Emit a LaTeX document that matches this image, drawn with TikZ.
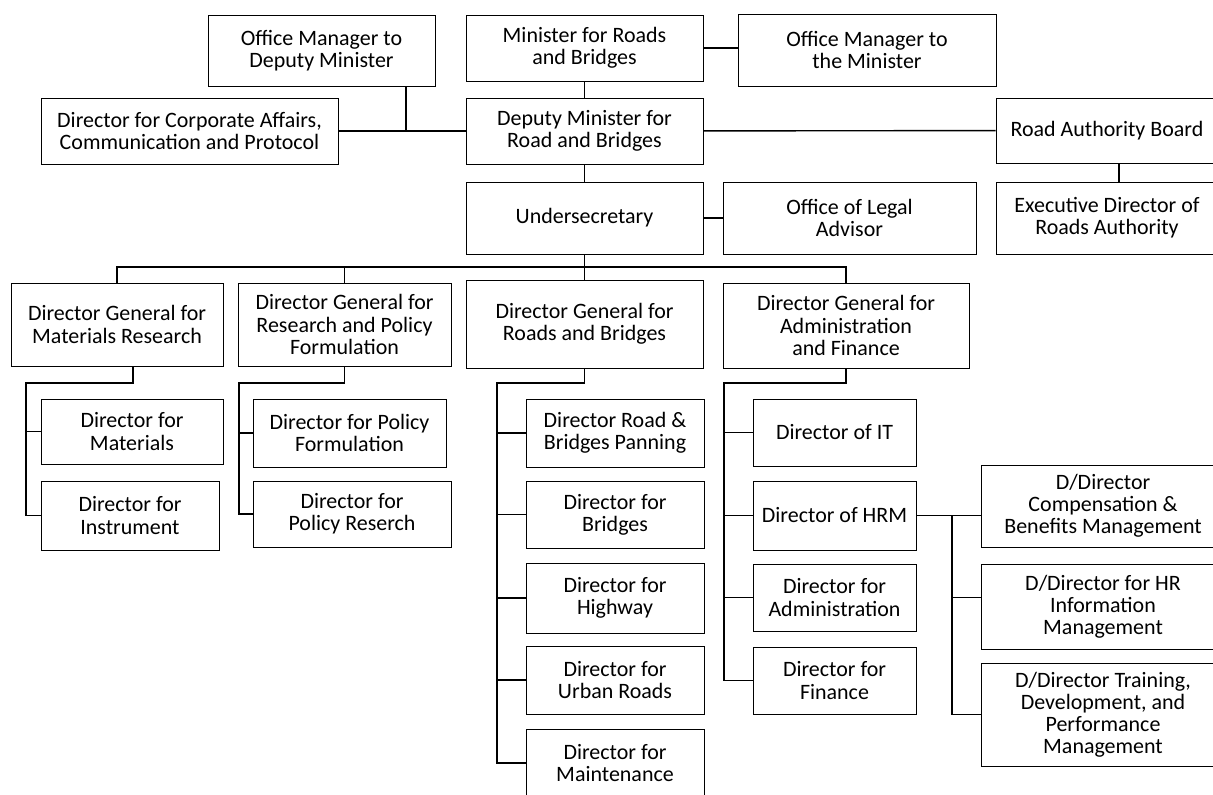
\documentclass[tikz,border=0pt]{standalone}
\usepackage{fontspec}
\setmainfont{Carlito}
\usepackage{tikz}
\usetikzlibrary{positioning}

\begin{document}
\begin{tikzpicture}
        [
        unit/.style={draw, line width=0.5pt, align=center, inner sep=0pt, font=\fontsize{12.5}{12.6}\selectfont},
        link/.style={line width=0.8pt}
        ]

        \useasboundingbox (0,0) rectangle (24.26,-15.88);

        % top level
        \node[unit, minimum width=4.54cm, minimum height=1.42cm] (omdm) at (6.43,-1.01) {Office Manager to\\Deputy Minister};
        \node[unit, minimum width=4.74cm, minimum height=1.32cm] (minister) at (11.69,-0.96) {Minister for Roads\\and Bridges};
        \node[unit, minimum width=5.16cm, minimum height=1.44cm] (omm) at (17.34,-1.00) {Office Manager to\\the Minister};

        \node[unit, minimum width=5.94cm, minimum height=1.32cm] (dca) at (3.79,-2.62) {Director for Corporate Affairs,\\Communication and Protocol};
        \node[unit, minimum width=4.74cm, minimum height=1.32cm] (deputy) at (11.69,-2.62) {Deputy Minister for\\Road and Bridges};
        \node[unit, minimum width=4.44cm, minimum height=1.30cm] (rab) at (22.14,-2.61) {Road Authority Board};

        \node[unit, minimum width=4.74cm, minimum height=1.44cm] (undersec) at (11.69,-4.36) {Undersecretary};
        \node[unit, minimum width=5.06cm, minimum height=1.44cm] (ola) at (16.99,-4.36) {Office of Legal\\Advisor};
        \node[unit, minimum width=4.44cm, minimum height=1.44cm] (edra) at (22.14,-4.36) {Executive Director of\\Roads Authority};

        % directors general
        \node[unit, minimum width=4.24cm, minimum height=1.66cm] (dgmr) at (2.34,-6.49) {Director General for\\Materials Research};
        \node[unit, minimum width=4.26cm, minimum height=1.66cm] (dgrpf) at (6.89,-6.49) {Director General for\\Research and Policy\\Formulation};
        \node[unit, minimum width=4.74cm, minimum height=1.76cm] (dgrb) at (11.69,-6.48) {Director General for\\Roads and Bridges};
        \node[unit, minimum width=4.92cm, minimum height=1.70cm] (dgaf) at (16.92,-6.51) {Director General for\\Administration\\and Finance};

        % directors
        \node[unit, minimum width=3.64cm, minimum height=1.30cm] (mat) at (2.64,-8.63) {Director for\\Materials};
        \node[unit, minimum width=3.56cm, minimum height=1.38cm] (instr) at (2.60,-10.31) {Director for\\Instrument};

        \node[unit, minimum width=3.86cm, minimum height=1.36cm] (polform) at (6.99,-8.66) {Director for Policy\\Formulation};
        \node[unit, minimum width=3.96cm, minimum height=1.32cm] (polres) at (7.04,-10.28) {Director for\\Policy Reserch};

        \node[unit, minimum width=3.56cm, minimum height=1.36cm] (rbp) at (12.30,-8.66) {Director Road \&\\Bridges Panning};
        \node[unit, minimum width=3.56cm, minimum height=1.34cm] (bridges) at (12.30,-10.29) {Director for\\Bridges};
        \node[unit, minimum width=3.56cm, minimum height=1.40cm] (highway) at (12.30,-11.96) {Director for\\Highway};
        \node[unit, minimum width=3.56cm, minimum height=1.36cm] (urban) at (12.30,-13.60) {Director for\\Urban Roads};
        \node[unit, minimum width=3.56cm, minimum height=1.36cm] (maint) at (12.30,-15.26) {Director for\\Maintenance};

        \node[unit, minimum width=3.26cm, minimum height=1.34cm] (it) at (16.69,-8.65) {Director of IT};
        \node[unit, minimum width=3.26cm, minimum height=1.38cm] (hrm) at (16.69,-10.31) {Director of HRM};
        \node[unit, minimum width=3.26cm, minimum height=1.34cm] (admin) at (16.69,-11.95) {Director for\\Administration};
        \node[unit, minimum width=3.26cm, minimum height=1.34cm] (fin) at (16.69,-13.61) {Director for\\Finance};

        % deputy directors under HRM
        \node[unit, minimum width=4.88cm, minimum height=1.64cm] (comp) at (22.06,-10.12) {D/Director\\Compensation \&\\Benefits Management};
        \node[unit, minimum width=4.88cm, minimum height=1.70cm] (hrinfo) at (22.06,-12.13) {D/Director for HR\\Information\\Management};
        \node[unit, minimum width=4.88cm, minimum height=2.06cm] (training) at (22.06,-14.29) {D/Director Training,\\Development, and\\Performance\\Management};

        % joints
        \coordinate (omj) at (8.12,-2.62);
        \coordinate (rabj) at (22.38,-2.61);
        \coordinate (bus) at (0,-5.34);
        \coordinate (mrk) at (2.66,-7.66);
        \coordinate (mrs) at (0.52,-7.66);
        \coordinate (rps) at (4.78,-7.66);
        \coordinate (rbs) at (9.94,-7.66);
        \coordinate (afs) at (14.48,-7.66);
        \coordinate (hrs) at (19.04,-10.31);

        % top connectors
        \draw[link] (minister) -- (deputy);
        \draw[link] (minister.east) -- (minister.east -| omm.west);
        \draw[link] (omdm.south -| omj) -- (omj);
        \draw[link] (dca) -- (deputy);
        \draw[link] (deputy) -- (rab);
        \draw[link] (rab.south -| rabj) -- (edra.north -| rabj);
        \draw[link] (deputy) -- (undersec);
        \draw[link] (undersec) -- (ola);

        % bus to directors general
        \draw[link] (dgmr.north) -- (dgmr.north |- bus) -| (dgaf.north);
        \foreach \n in {undersec.south, dgrpf.north, dgrb.north}
            \draw[link] (\n) -- (\n |- bus);

        % branches
        \draw[link] (dgmr.south -| mrk) |- (mrs) |- (instr.west);
        \draw[link] (mrs |- mat.west) -- (mat.west);

        \draw[link] (dgrpf.south) |- (rps) |- (polres.west);
        \draw[link] (rps |- polform.west) -- (polform.west);

        \draw[link] (dgrb.south) |- (rbs) |- (maint.west);
        \foreach \n in {rbp, bridges, highway, urban}
            \draw[link] (rbs |- \n.west) -- (\n.west);

        \draw[link] (dgaf.south) |- (afs) |- (fin.west);
        \foreach \n in {it, hrm, admin}
            \draw[link] (afs |- \n.west) -- (\n.west);

        \draw[link] (hrm) -- (hrm -| comp.west);
        \draw[link] (hrs) |- (training.west);
        \draw[link] (hrs |- admin) -- (hrinfo.west |- admin);

    \end{tikzpicture}
\end{document}
